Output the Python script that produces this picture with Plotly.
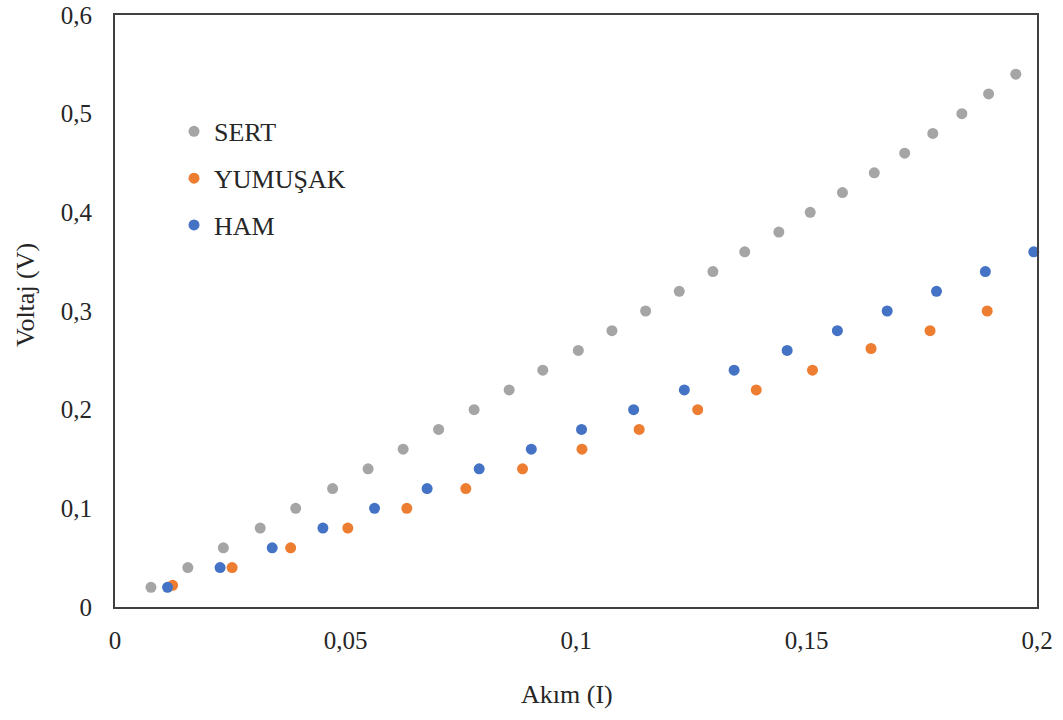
import plotly.graph_objects as go

# Current (A) and voltage (V) readings for each sample
sert_akim = [0.0078, 0.0158, 0.0235, 0.0315, 0.0392, 0.0472, 0.0549, 0.0625, 0.0702,
             0.0779, 0.0855, 0.0928, 0.1005, 0.1078, 0.1151, 0.1224, 0.1297, 0.1366,
             0.1440, 0.1508, 0.1578, 0.1647, 0.1713, 0.1774, 0.1837, 0.1895, 0.1954]
sert_voltaj = [0.02, 0.04, 0.06, 0.08, 0.10, 0.12, 0.14, 0.16, 0.18, 0.20, 0.22, 0.24,
               0.26, 0.28, 0.30, 0.32, 0.34, 0.36, 0.38, 0.40, 0.42, 0.44, 0.46, 0.48,
               0.50, 0.52, 0.54]

yumusak_akim = [0.0125, 0.0254, 0.0381, 0.0505, 0.0633, 0.0761, 0.0884, 0.1013, 0.1137,
                0.1264, 0.1391, 0.1513, 0.1640, 0.1768, 0.1892]
yumusak_voltaj = [0.022, 0.04, 0.06, 0.08, 0.10, 0.12, 0.14, 0.16, 0.18, 0.20, 0.22,
                  0.24, 0.262, 0.28, 0.30]

ham_akim = [0.0114, 0.0228, 0.0341, 0.0451, 0.0563, 0.0677, 0.0790, 0.0903, 0.1012,
            0.1125, 0.1235, 0.1343, 0.1458, 0.1567, 0.1675, 0.1782, 0.1888, 0.1993]
ham_voltaj = [0.02, 0.04, 0.06, 0.08, 0.10, 0.12, 0.14, 0.16, 0.18, 0.20, 0.22, 0.24,
              0.26, 0.28, 0.30, 0.32, 0.34, 0.36]

FONT = "Liberation Serif, Times New Roman, serif"
TEXT = "#262626"
series = [
    ("SERT", sert_akim, sert_voltaj, "#A5A5A5"),
    ("YUMUŞAK", yumusak_akim, yumusak_voltaj, "#ED7D31"),
    ("HAM", ham_akim, ham_voltaj, "#4472C4"),
]

fig = go.Figure()
for name, xs, ys, color in series:
    fig.add_trace(go.Scatter(
        x=xs, y=ys, mode="markers", name=name, legendgroup=name,
        marker=dict(size=11, color=color),
        cliponaxis=False,
    ))

axis_common = dict(
    showgrid=False, zeroline=False, showline=True, mirror=True,
    linecolor="#404040", linewidth=2, ticks="", automargin=False,
    tickfont=dict(family=FONT, size=25, color=TEXT),
)

fig.update_xaxes(range=[0, 0.2], dtick=0.05, tick0=0, ticklabelstandoff=10, **axis_common)
fig.update_yaxes(range=[0, 0.6], dtick=0.1, tick0=0, ticklabelstandoff=16, **axis_common)

fig.add_annotation(text="Akım (I)", xref="paper", yref="paper", x=0.49, y=-0.148,
                   xanchor="center", yanchor="middle",
                   showarrow=False, font=dict(family=FONT, size=26, color=TEXT))
fig.add_annotation(text="Voltaj (V)", xref="paper", yref="paper", x=-0.0976, y=0.527,
                   xanchor="center", yanchor="middle",
                   textangle=-90, showarrow=False,
                   font=dict(family=FONT, size=26, color=TEXT))

fig.update_layout(
    template="none",
    width=1063, height=720,
    margin=dict(l=115, r=26, t=15, b=113, autoexpand=False),
    paper_bgcolor="white", plot_bgcolor="white",
    separators=",.",
    showlegend=True,
    legend=dict(
        x=0.064, y=0.843, xanchor="left", yanchor="top",
        font=dict(family=FONT, size=26, color=TEXT),
        traceorder="grouped", tracegroupgap=10,
        bgcolor="rgba(0,0,0,0)", borderwidth=0,
    ),
)

fig.write_html("out.html")
